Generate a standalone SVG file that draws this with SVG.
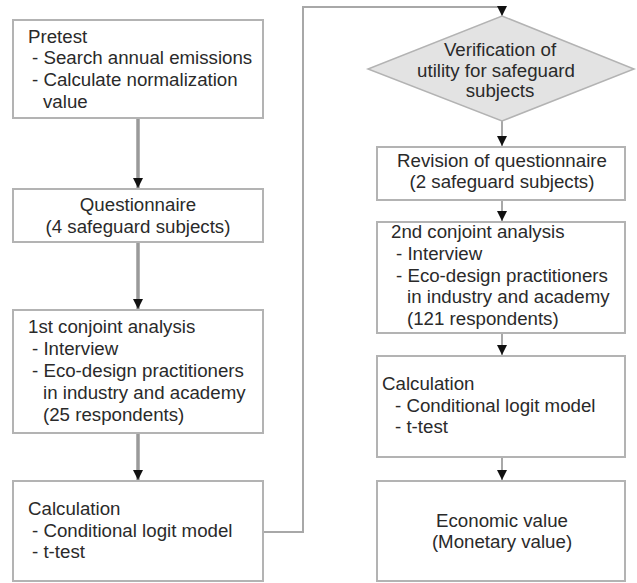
<svg xmlns="http://www.w3.org/2000/svg" width="637" height="583" viewBox="0 0 637 583">
<style>
.box{fill:#fff;stroke:#b3b3b3;stroke-width:2}
.dia{fill:#e3e3e3;stroke:#b3b3b3;stroke-width:1.5}
text{font-family:"Liberation Sans",Arial,sans-serif;font-size:18.7px;fill:#2a2a2a}
.c{text-anchor:middle}
.thick{stroke:#9a9a9a;stroke-width:3.5;fill:none}
.thin{stroke:#a8a8a8;stroke-width:2;fill:none}
</style>
<defs>
<marker id="ah" viewBox="0 0 10 10" refX="10" refY="5" markerWidth="11" markerHeight="10" markerUnits="userSpaceOnUse" orient="auto">
<path d="M0,0 L10,5 L0,10 z" fill="#111"/>
</marker>
<marker id="ahs" viewBox="0 0 10 10" refX="10" refY="5" markerWidth="10" markerHeight="10" markerUnits="userSpaceOnUse" orient="auto">
<path d="M0,0 L10,5 L0,10 z" fill="#111"/>
</marker>
</defs>
<g id="connectors">
<line class="thick" x1="138" y1="119" x2="138" y2="188" marker-end="url(#ah)"/>
<line class="thick" x1="138" y1="243" x2="138" y2="309" marker-end="url(#ah)"/>
<line class="thick" x1="138" y1="434" x2="138" y2="480" marker-end="url(#ah)"/>
<polyline class="thin" points="263,532 303,532 303,7 502,7 502,16" marker-end="url(#ahs)"/>
<line class="thin" x1="502" y1="121" x2="502" y2="146" marker-end="url(#ahs)"/>
<line class="thin" x1="502" y1="201" x2="502" y2="221" marker-end="url(#ahs)"/>
<line class="thin" x1="502" y1="334" x2="502" y2="355" marker-end="url(#ahs)"/>
<line class="thin" x1="502" y1="458" x2="502" y2="480" marker-end="url(#ahs)"/>
</g>
<g id="pretest">
<rect class="box" x="13" y="20" width="250" height="98"/>
<text x="28" y="42.5">Pretest</text>
<text x="32" y="64">- Search annual emissions</text>
<text x="32" y="86">- Calculate normalization</text>
<text x="43" y="108">value</text>
</g>
<g id="questionnaire">
<rect class="box" x="13" y="189" width="250" height="53"/>
<text class="c" x="138" y="211">Questionnaire</text>
<text class="c" x="138" y="233">(4 safeguard subjects)</text>
</g>
<g id="conjoint1">
<rect class="box" x="13" y="310" width="250" height="123"/>
<text x="28" y="333">1st conjoint analysis</text>
<text x="32" y="355">- Interview</text>
<text x="32" y="377">- Eco-design practitioners</text>
<text x="43" y="399">in industry and academy</text>
<text x="43" y="421">(25 respondents)</text>
</g>
<g id="calculation1">
<rect class="box" x="13" y="481" width="250" height="100"/>
<text x="28" y="515">Calculation</text>
<text x="32" y="537">- Conditional logit model</text>
<text x="32" y="558">- t-test</text>
</g>
<g id="verification">
<polygon class="dia" points="502,16 634,69 502,121 368,69"/>
<text class="c" x="500" y="56">Verification of</text>
<text class="c" x="496" y="77">utility for safeguard</text>
<text class="c" x="500" y="97">subjects</text>
</g>
<g id="revision">
<rect class="box" x="377" y="147" width="248" height="53"/>
<text class="c" x="502" y="167">Revision of questionnaire</text>
<text class="c" x="502" y="188">(2 safeguard subjects)</text>
</g>
<g id="conjoint2">
<rect class="box" x="377" y="222" width="248" height="111"/>
<text x="391" y="238">2nd conjoint analysis</text>
<text x="396" y="260">- Interview</text>
<text x="396" y="282">- Eco-design practitioners</text>
<text x="407" y="303">in industry and academy</text>
<text x="407" y="325">(121 respondents)</text>
</g>
<g id="calculation2">
<rect class="box" x="377" y="356" width="248" height="101"/>
<text x="382" y="390">Calculation</text>
<text x="395" y="412">- Conditional logit model</text>
<text x="395" y="433">- t-test</text>
</g>
<g id="economic">
<rect class="box" x="377" y="481" width="248" height="100"/>
<text class="c" x="502" y="527">Economic value</text>
<text class="c" x="502" y="548">(Monetary value)</text>
</g>
</svg>
